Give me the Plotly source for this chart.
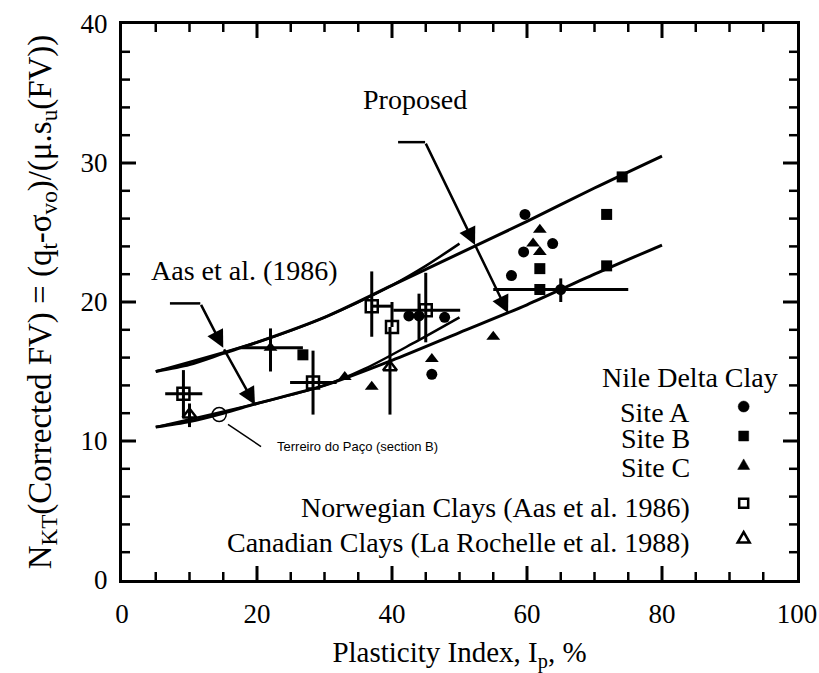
import plotly.graph_objects as go

# ---------------- data ----------------
# Proposed bounds
prop_x = [5, 10, 15, 20, 30, 40, 50, 60, 70, 80]
prop_upper_y = [15.0, 15.5, 16.3, 17.1, 18.9, 21.2, 23.5, 25.8, 28.2, 30.5]
prop_lower_y = [11.0, 11.4, 12.0, 12.7, 14.0, 15.8, 17.8, 19.8, 22.0, 24.1]
# Aas et al. (1986) bounds
aas_upper_x = [5, 20, 30, 40, 45, 50]
aas_upper_y = [15.0, 17.1, 18.9, 21.2, 22.6, 24.2]
aas_lower_x = [5, 20, 30, 36, 43, 50]
aas_lower_y = [11.0, 12.7, 14.0, 15.2, 17.0, 18.9]

# Nile Delta Clay - Site A
site_a_x = [42.5, 44.0, 47.8, 45.9, 57.7, 59.5, 59.7, 63.8, 65.0]
site_a_y = [19.0, 19.0, 18.9, 14.8, 21.9, 23.6, 26.3, 24.2, 20.9]
site_a_ex = [0, 0, 0, 0, 0, 0, 0, 0, 10.0]
site_a_ey_plus = [0, 1.6, 0, 0, 0, 0, 0, 0, 0.8]
site_a_ey_minus = [0, 1.7, 0, 0, 0, 0, 0, 0, 0.9]
# Site B
site_b_x = [26.8, 61.9, 61.9, 71.8, 71.8, 74.1]
site_b_y = [16.2, 22.4, 20.9, 26.3, 22.6, 29.0]
# Site C
site_c_x = [22.0, 33.0, 37.0, 45.9, 55.0, 60.9, 61.9, 61.9]
site_c_y = [16.7, 14.6, 13.9, 15.9, 17.5, 24.2, 23.6, 25.2]
site_c_ex_plus = [4.8, 0, 0, 0, 0, 0, 0, 0]
site_c_ex_minus = [4.5, 0, 0, 0, 0, 0, 0, 0]
site_c_ey_plus = [1.4, 0, 0, 0, 0, 0, 0, 0]
site_c_ey_minus = [1.7, 0, 0, 0, 0, 0, 0, 0]
# Norwegian clays (Aas et al. 1986)
norw_x = [9.1, 28.3, 37.0, 40.0, 45.0]
norw_y = [13.4, 14.2, 19.7, 18.2, 19.4]
norw_ex_plus = [2.8, 3.5, 3.0, 0, 5.1]
norw_ex_minus = [2.7, 3.4, 0, 0, 4.8]
norw_ey_plus = [1.7, 2.3, 2.5, 1.8, 2.7]
norw_ey_minus = [1.7, 2.3, 2.2, 0, 2.3]
# Canadian clays (La Rochelle et al. 1988)
canad_x = [10.0, 39.7]
canad_y = [11.9, 15.3]
canad_ey_plus = [0.8, 2.9]
canad_ey_minus = [0.9, 3.4]
# Terreiro do Paço
terreiro_x = [14.4]
terreiro_y = [11.9]
terreiro_label = "Terreiro do Paço (section B)"

# Annotation arrows (polyline: corner -> mid arrowhead -> end arrowhead)
aas_arrow_x = [7.1, 11.6, 15.0, 19.7]
aas_arrow_y = [19.9, 19.9, 16.7, 12.6]
prop_arrow_x = [40.9, 44.9, 52.3, 57.2]
prop_arrow_y = [31.5, 31.5, 24.1, 19.2]
leader_x = [15.7, 20.6]
leader_y = [11.2, 9.6]

# Legend
legend_title = "Nile Delta Clay"
legend_labels = ["Site A", "Site B", "Site C",
                 "Norwegian Clays (Aas et al. 1986)",
                 "Canadian Clays (La Rochelle et al. 1988)"]
legend_symbols = ["circle", "square", "triangle", "square-open", "triangle-open"]

# axes
x_range = [0, 100]
y_range = [0, 40]
x_major, x_minor = 20, 5
y_major, y_minor = 10, 2

# ---------------- figure ----------------
SERIF = "Liberation Serif"
SANS = "Liberation Sans"
W, H = 819, 673
ML, MR, MT, MB = 122, 22, 24, 93
PX_X = (W - ML - MR) / (x_range[1] - x_range[0])   # pixels per x unit
PX_Y = (H - MT - MB) / (y_range[1] - y_range[0])   # pixels per y unit

fig = go.Figure()


def curve(x, y, w):
    fig.add_trace(go.Scatter(x=x, y=y, mode="lines", showlegend=False,
                             line=dict(color="black", width=w, shape="spline", smoothing=0.8),
                             hoverinfo="skip"))


curve(aas_upper_x, aas_upper_y, 2.5)
curve(aas_lower_x, aas_lower_y, 2.5)
curve(prop_x, prop_upper_y, 3)
curve(prop_x, prop_lower_y, 3)

for xs, ys, w in [(aas_arrow_x[:2], aas_arrow_y[:2], 2.5), (prop_arrow_x[:2], prop_arrow_y[:2], 2.5),
                  (leader_x, leader_y, 1.5)]:
    fig.add_trace(go.Scatter(x=xs, y=ys, mode="lines", showlegend=False,
                             line=dict(color="black", width=w), hoverinfo="skip"))


def pts(x, y, sym, size, ex_p=None, ex_m=None, ey_p=None, ey_m=None, lw=0):
    kw = {}
    if ex_p is not None:
        kw["error_x"] = dict(type="data", array=ex_p, arrayminus=ex_m,
                             color="black", thickness=3, width=0)
    if ey_p is not None:
        kw["error_y"] = dict(type="data", array=ey_p, arrayminus=ey_m,
                             color="black", thickness=3, width=0)
    fig.add_trace(go.Scatter(
        x=x, y=y, mode="markers", showlegend=False, hoverinfo="skip",
        marker=dict(symbol=sym, size=size, color="black",
                    line=dict(color="black", width=lw)), **kw))


pts(norw_x, norw_y, "square-open", 12, norw_ex_plus, norw_ex_minus, norw_ey_plus, norw_ey_minus, lw=2.5)
pts(canad_x, canad_y, "triangle-up-open", 12, None, None, canad_ey_plus, canad_ey_minus, lw=2.5)
pts(site_a_x, site_a_y, "circle", 11, site_a_ex, site_a_ex, site_a_ey_plus, site_a_ey_minus)
pts(site_b_x, site_b_y, "square", 11)
pts(site_c_x, site_c_y, "triangle-up", 12, site_c_ex_plus, site_c_ex_minus, site_c_ey_plus, site_c_ey_minus)
pts(terreiro_x, terreiro_y, "circle-open", 14, lw=1.5)

# ---------------- inward ticks on all four sides (line traces on top) ----------------
for major in (True, False):
    tx, ty = [], []
    L = 14 if major else 8
    for v in range(x_range[0] + x_minor, x_range[1], x_minor):
        if (v % x_major == 0) != major:
            continue
        tx += [v, v, None, v, v, None]
        ty += [y_range[0], y_range[0] + L / PX_Y, None, y_range[1], y_range[1] - L / PX_Y, None]
    for v in range(y_range[0] + y_minor, y_range[1], y_minor):
        if (v % y_major == 0) != major:
            continue
        tx += [x_range[0], x_range[0] + L / PX_X, None, x_range[1], x_range[1] - L / PX_X, None]
        ty += [v, v, None, v, v, None]
    fig.add_trace(go.Scatter(x=tx, y=ty, mode="lines", showlegend=False, hoverinfo="skip",
                             cliponaxis=False, connectgaps=False,
                             line=dict(color="black", width=3 if major else 2.5)))

# ---------------- legend (text + symbol drawn on the right) ----------------
shapes = []
LEG_SYM_X = 0.921
leg_sym_y = [0.312, 0.259, 0.207, 0.138, 0.0755]
leg_text_y = [0.302, 0.254, 0.203, 0.131, 0.068]
for sym, yy in zip(legend_symbols, leg_sym_y):
    base = dict(xref="paper", yref="paper", xsizemode="pixel", ysizemode="pixel",
                xanchor=LEG_SYM_X, yanchor=yy)
    filled = not sym.endswith("open")
    fill = "black" if filled else "rgba(0,0,0,0)"
    lw = 0.5 if filled else 2.5
    if sym == "circle":
        shapes.append(dict(type="circle", x0=-5.5, x1=5.5, y0=-5.5, y1=5.5, fillcolor=fill,
                           line=dict(color="black", width=lw), **base))
    elif sym.startswith("square"):
        h = 5 if filled else 4.5
        shapes.append(dict(type="rect", x0=-h, x1=h, y0=-h, y1=h, fillcolor=fill,
                           line=dict(color="black", width=lw), **base))
    else:
        shapes.append(dict(type="path", path="M -6,-4.5 L 6,-4.5 L 0,6 Z", fillcolor=fill,
                           line=dict(color="black", width=lw), **base))

annotations = []
annotations.append(dict(xref="paper", yref="paper", x=0.975, y=0.365, text=legend_title,
                        showarrow=False, xanchor="right", yanchor="middle",
                        font=dict(family=SERIF, size=28, color="black")))
for lab, yy in zip(legend_labels, leg_text_y):
    annotations.append(dict(xref="paper", yref="paper", x=0.845, y=yy, text=lab,
                            showarrow=False, xanchor="right", yanchor="middle",
                            font=dict(family=SERIF, size=28, color="black")))

annotations.append(dict(x=18.2, y=22.3, text="Aas et al. (1986)", showarrow=False,
                        font=dict(family=SERIF, size=28, color="black")))
annotations.append(dict(x=43.4, y=34.6, text="Proposed", showarrow=False,
                        font=dict(family=SERIF, size=28, color="black")))
annotations.append(dict(x=22.7, y=9.6, text=terreiro_label, showarrow=False, xanchor="left",
                        font=dict(family=SANS, size=13, color="black")))

for ax_, ay_ in [(aas_arrow_x, aas_arrow_y), (prop_arrow_x, prop_arrow_y)]:
    for i in (1, 2):
        annotations.append(dict(x=ax_[i + 1], y=ay_[i + 1], ax=ax_[i], ay=ay_[i],
                                xref="x", yref="y", axref="x", ayref="y", text="",
                                showarrow=True, arrowhead=2, arrowsize=1.4,
                                arrowwidth=2.5, arrowcolor="black", standoff=0))

axis_common = dict(showgrid=False, zeroline=False, showline=True, linecolor="black",
                   linewidth=3, mirror=True, ticks="outside", tickcolor="rgba(0,0,0,0)",
                   tickfont=dict(family=SERIF, size=27, color="black"))

fig.update_layout(
    width=W, height=H,
    margin=dict(l=ML, r=MR, t=MT, b=MB, autoexpand=False),
    paper_bgcolor="white", plot_bgcolor="white",
    annotations=annotations, shapes=shapes,
    xaxis=dict(range=x_range, dtick=x_major, ticklen=8,
               title=dict(text="Plasticity Index, I<sub>p</sub>, %",
                          font=dict(family=SERIF, size=29, color="black")),
               **axis_common),
    yaxis=dict(range=y_range, dtick=y_major, ticklen=6,
               title=dict(text="N<sub>KT</sub>(Corrected FV) = (q<sub>t</sub>-σ<sub>vo</sub>)/(μ.s<sub>u</sub>(FV))",
                          standoff=20, font=dict(family=SERIF, size=33, color="black")),
               **axis_common),
)

# remove the default 8px page margin so the 819x673 figure fills the window exactly
fig.write_html("out.html", config={"displayModeBar": False},
               post_script="document.body.style.margin='0';document.body.style.overflow='hidden';")
